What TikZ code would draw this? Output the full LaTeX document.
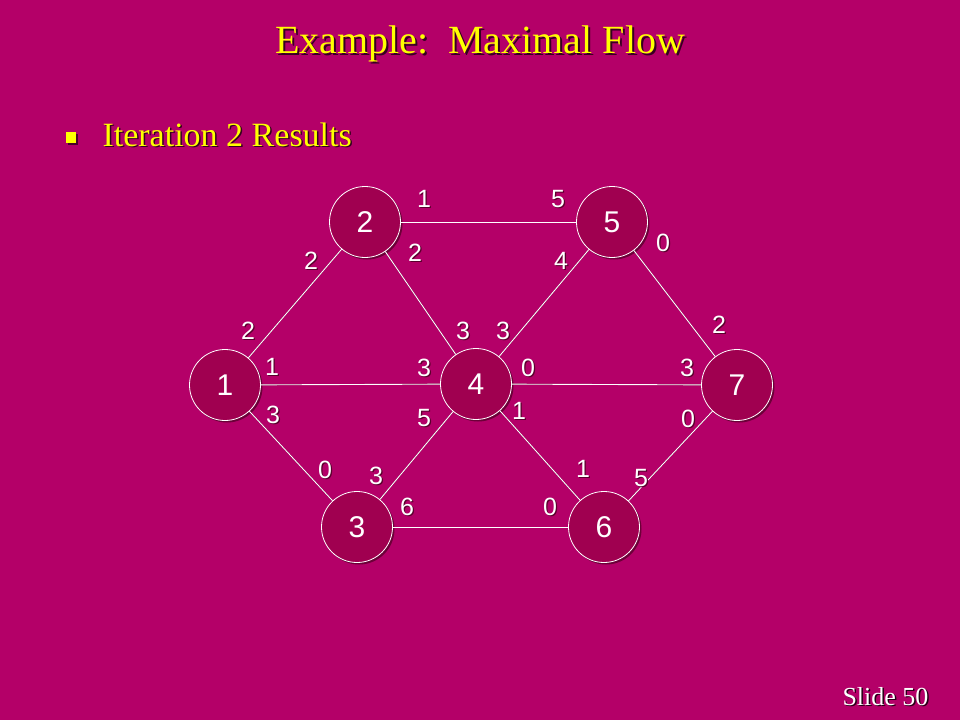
\documentclass[tikz,border=0pt]{standalone}
\usepackage{fontspec}
\setmainfont{Liberation Serif}
\newfontfamily\arialf{Liberation Sans}
\usetikzlibrary{shadows}
\definecolor{bgc}{RGB}{180,0,104}
\definecolor{nodec}{RGB}{160,0,80}
\definecolor{shc}{RGB}{90,0,45}
\definecolor{ttl}{RGB}{255,255,0}
\begin{document}
\begin{tikzpicture}[x=1pt,y=-1pt,
  vtx/.style={circle,draw=white,line width=0.8pt,fill=nodec,minimum size=71pt,inner sep=0pt,
     font=\arialf\fontsize{30}{30}\selectfont,text=white,
     drop shadow={shadow xshift=2pt,shadow yshift=-2pt,fill=shc,opacity=0.8}},
  lbl/.style={font=\arialf\fontsize{25}{25}\selectfont,text=white,inner sep=0pt},
  lblsh/.style={font=\arialf\fontsize{25}{25}\selectfont,text=shc,inner sep=0pt},
  edge/.style={draw=white,line width=0.9pt},
  edgesh/.style={draw=shc,line width=0.9pt},
]
\fill[bgc] (0,0) rectangle (960,720);
\useasboundingbox (0,0) rectangle (960,720);
% title
\node[text=black!70!bgc,font=\fontsize{40}{40}\selectfont] at (482,46) {Example:\ \ Maximal Flow};
\node (title) [text=ttl,font=\fontsize{40}{40}\selectfont] at (480,44) {Example:\ \ Maximal Flow};
\fill[black!60!bgc] (68,134) rectangle (78,145);
\fill[ttl] (66,132) rectangle (76,143);
\node[anchor=base west,text=black!70!bgc,font=\fontsize{34}{34}\selectfont] at (100.5,147.5) {Iteration 2 Results};
\node (sub) [anchor=base west,text=ttl,font=\fontsize{34}{34}\selectfont] at (99,146) {Iteration 2 Results};
\node[anchor=base east,text=black!80!bgc,font=\fontsize{26}{26}\selectfont] at (933.5,706.5) {Slide 50};
\node (slide) [anchor=base east,text=white,font=\fontsize{26}{26}\selectfont] at (932,705) {Slide 50};
% node positions
\coordinate (p1) at (225,385);
\coordinate (p2) at (365,222);
\coordinate (p5) at (612,222);
\coordinate (p4) at (476,384);
\coordinate (p7) at (737,385);
\coordinate (p3) at (357,527);
\coordinate (p6) at (604,527);
% edge shadows
\begin{scope}[shift={(1,1.5)}]
\foreach \a/\b in {1/2,1/4,1/3,2/5,2/4,5/4,5/7,4/7,4/3,4/6,3/6,6/7}
  \draw[edgesh] (p\a) -- (p\b);
\end{scope}
% nodes
\node[vtx] (n1) at (p1) {1};
\node[vtx] (n2) at (p2) {2};
\node[vtx] (n5) at (p5) {5};
\node[vtx] (n4) at (p4) {4};
\node[vtx] (n7) at (p7) {7};
\node[vtx] (n3) at (p3) {3};
\node[vtx] (n6) at (p6) {6};
% edges
\foreach \a/\b in {1/2,1/4,1/3,2/5,2/4,5/4,5/7,4/7,4/3,4/6,3/6,6/7}
  \draw[edge] (n\a) -- (n\b);
% labels
\foreach \n/\x/\y/\t in {1/424/199/1,2/558/199/5,3/415/253/2,4/561/261/4,5/663/243/0,
  6/311/261/2,7/248/331/2,8/463/331/3,9/503/331/3,10/719/325/2,11/272/367/1,12/424/368/3,
  13/528/368/0,14/687/368/3,15/273/415/3,16/424/418/5,17/519/411/1,18/688/419/0,
  19/325/470/0,20/376/476/3,21/583/469/1,22/641/478/5,23/407/507/6,24/550/507/0}
{
  \node[lblsh] at (\x+1.2,\y+1.2) {\t};
  \node[lbl] (l\n) at (\x,\y) {\t};
}
\end{tikzpicture}
\end{document}
